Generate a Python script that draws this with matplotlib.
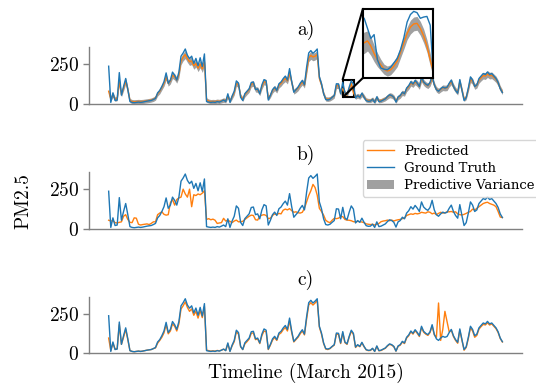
import matplotlib as mpl
mpl.use('Agg')
import matplotlib.pyplot as plt
from matplotlib.patches import Patch
from matplotlib.lines import Line2D
from mpl_toolkits.axes_grid1.inset_locator import mark_inset

#
#--- hourly timeline of March 2015, one reading every 4 hours
#
hours = list(range(0, 744, 4))

truth = [237, 10, 70, 22, 25, 197, 55, 110, 160, 90,
         15, 10, 8, 10, 12, 10, 12, 15, 18, 20,
         22, 28, 35, 70, 85, 110, 140, 195, 130, 150,
         200, 180, 150, 200, 300, 320, 345, 305, 285, 300,
         255, 286, 240, 290, 235, 314, 15, 12, 10, 12,
         10, 15, 12, 18, 25, 15, 64, 10, 50, 80,
         145, 130, 42, 22, 65, 80, 95, 135, 138, 90,
         95, 64, 120, 153, 145, 25, 55, 90, 106, 85,
         127, 138, 159, 175, 150, 222, 140, 74, 90, 106,
         130, 148, 120, 230, 320, 335, 318, 330, 345, 170,
         127, 64, 28, 25, 30, 42, 53, 127, 125, 64,
         136, 70, 58, 105, 145, 125, 38, 53, 42, 68,
         42, 21, 17, 18, 30, 10, 45, 15, 18, 25,
         32, 47, 58, 53, 42, 12, 45, 53, 74, 64,
         100, 115, 140, 125, 148, 131, 110, 170, 138, 125,
         117, 135, 180, 120, 90, 80, 95, 106, 100, 105,
         130, 150, 110, 85, 68, 153, 85, 22, 40, 100,
         170, 150, 110, 120, 160, 175, 191, 185, 201, 185,
         191, 175, 160, 135, 95, 72]

pred_a = [80, 30, 60, 30, 35, 140, 60, 100, 145, 90,
          22, 15, 14, 15, 16, 15, 16, 18, 20, 22,
          25, 30, 38, 65, 80, 105, 130, 170, 130, 145,
          180, 170, 150, 185, 270, 295, 310, 285, 265, 270,
          240, 255, 225, 250, 220, 265, 25, 18, 15, 16,
          15, 18, 16, 20, 25, 20, 50, 20, 45, 72,
          130, 120, 50, 30, 60, 75, 90, 125, 128, 92,
          90, 68, 110, 140, 135, 35, 55, 85, 100, 85,
          118, 130, 148, 160, 145, 195, 135, 78, 88, 100,
          122, 138, 118, 205, 290, 305, 295, 300, 310, 160,
          120, 65, 32, 30, 33, 42, 52, 115, 115, 68,
          97, 70, 54, 97, 128, 70, 45, 52, 45, 62,
          45, 25, 22, 22, 30, 15, 40, 20, 22, 28,
          34, 45, 55, 52, 42, 18, 42, 52, 70, 65,
          95, 110, 132, 122, 140, 128, 110, 158, 135, 122,
          115, 130, 165, 120, 92, 82, 92, 102, 100, 102,
          125, 140, 110, 88, 72, 140, 88, 30, 42, 95,
          155, 142, 110, 118, 150, 165, 178, 175, 188, 178,
          180, 168, 155, 132, 98, 75]

std_a = [20, 14, 16, 14, 14, 19, 15, 17, 19, 16,
         13, 13, 13, 13, 13, 13, 13, 13, 13, 13,
         13, 14, 14, 15, 16, 17, 18, 20, 18, 19,
         20, 20, 19, 21, 23, 24, 25, 24, 23, 23,
         22, 23, 22, 23, 22, 23, 14, 13, 13, 13,
         13, 13, 13, 13, 14, 13, 15, 13, 15, 16,
         18, 18, 15, 14, 16, 16, 17, 18, 18, 17,
         17, 16, 17, 19, 19, 14, 15, 17, 17, 16,
         18, 18, 19, 20, 19, 21, 18, 16, 17, 17,
         18, 19, 18, 21, 24, 25, 24, 24, 25, 20,
         18, 15, 14, 14, 14, 15, 15, 18, 18, 16,
         18, 16, 14, 16, 18, 16, 15, 15, 15, 16,
         15, 14, 13, 13, 14, 13, 15, 13, 13, 14,
         14, 15, 16, 16, 15, 13, 15, 16, 17, 16,
         18, 18, 19, 18, 19, 19, 18, 20, 19, 18,
         18, 19, 20, 18, 17, 17, 17, 18, 18, 18,
         18, 19, 18, 17, 16, 19, 17, 14, 15, 17,
         20, 19, 18, 18, 19, 20, 21, 21, 21, 21,
         21, 20, 20, 19, 17, 16]

pred_b = [55, 50, 52, 40, 38, 42, 45, 80, 90, 60,
          42, 40, 70, 68, 30, 25, 28, 30, 32, 28,
          35, 45, 45, 90, 100, 108, 92, 87, 90, 165,
          185, 150, 185, 195, 200, 250, 220, 200, 250, 140,
          215, 210, 220, 215, 225, 240, 60, 65, 58, 62,
          55, 35, 38, 40, 67, 50, 55, 48, 40, 50,
          56, 45, 46, 48, 60, 70, 80, 87, 85, 58,
          56, 80, 87, 90, 85, 65, 68, 85, 95, 90,
          98, 95, 118, 125, 120, 128, 115, 105, 108, 102,
          100, 105, 130, 170, 210, 240, 280, 260, 212, 130,
          110, 87, 55, 45, 40, 55, 67, 65, 68, 77,
          78, 60, 56, 55, 52, 46, 45, 48, 46, 44,
          40, 32, 30, 28, 30, 25, 30, 35, 46, 50,
          52, 56, 52, 56, 50, 55, 58, 60, 65, 68,
          85, 90, 95, 92, 98, 95, 98, 105, 102, 100,
          108, 105, 95, 100, 90, 98, 105, 100, 102, 108,
          108, 110, 105, 108, 95, 90, 88, 92, 98, 105,
          110, 125, 118, 130, 140, 150, 160, 165, 168, 160,
          155, 150, 140, 110, 75, 72]

pred_c = [95, 15, 62, 25, 28, 180, 55, 100, 150, 85,
          15, 10, 8, 10, 12, 10, 12, 15, 18, 20,
          22, 28, 32, 62, 80, 100, 128, 180, 122, 140,
          185, 170, 140, 185, 280, 300, 325, 290, 265, 280,
          240, 265, 222, 270, 225, 295, 18, 15, 12, 14,
          12, 16, 14, 18, 24, 16, 58, 12, 45, 72,
          135, 120, 40, 22, 58, 72, 88, 125, 128, 85,
          90, 60, 110, 140, 135, 22, 50, 82, 98, 80,
          118, 128, 148, 162, 140, 205, 130, 70, 85, 100,
          122, 140, 115, 215, 305, 320, 305, 318, 335, 165,
          120, 60, 25, 22, 28, 40, 50, 120, 118, 60,
          128, 66, 55, 100, 138, 118, 35, 50, 40, 64,
          40, 20, 15, 16, 28, 10, 42, 14, 16, 23,
          30, 44, 55, 50, 40, 12, 42, 50, 70, 60,
          95, 110, 135, 120, 142, 125, 105, 162, 132, 120,
          112, 130, 172, 115, 100, 318, 80, 150, 265, 200,
          135, 145, 105, 80, 62, 145, 80, 18, 35, 92,
          160, 140, 100, 112, 152, 168, 182, 178, 192, 178,
          185, 170, 155, 130, 92, 70]

#
#--- hourly close-up shown in the inset of panel a
#
zoom_hours = list(range(439, 463))
zoom_truth = [140, 136, 120, 104, 110, 70, 57, 55, 54, 58, 65, 72,
              86, 105, 130, 142, 147, 145, 136, 138, 139, 125, 41, 35]
zoom_pred  = [95, 97, 100, 92, 80, 70, 62, 55, 52, 54, 60, 68,
              82, 97, 112, 122, 127, 128, 120, 108, 92, 70, 50, 45]
zoom_std   = [17, 17, 16, 15, 13, 11, 9, 8, 8, 8, 8, 9,
              9, 10, 10, 11, 11, 11, 11, 11, 10, 10, 9, 9]

panel_titles = ['a)', 'b)', 'c)']
legend_names = ['Predicted', 'Ground Truth', 'Predictive Variance']

c_pred  = '#ff7f0e'
c_truth = '#1f77b4'
c_var   = 'gray'

plt.rcParams['font.family'] = 'cmr10'
plt.rcParams['mathtext.fontset'] = 'cm'
plt.rcParams['axes.formatter.use_mathtext'] = True
plt.rcParams['font.size'] = 14

#---------------------------------------------------------------------------------------------------
#-- style_axis: gray left/bottom spines, two y ticks, no x ticks                                  ---
#---------------------------------------------------------------------------------------------------

def style_axis(ax, title):

    for side in ['top', 'right']:
        ax.spines[side].set_visible(False)
    for side in ['left', 'bottom']:
        ax.spines[side].set_color('#808080')
        ax.spines[side].set_linewidth(1.0)

    ax.set_xticks([])
    ax.set_yticks([0, 250])
    ax.tick_params(axis='y', length=4, width=1, color='#808080', labelsize=14, pad=3)
    ax.set_ylim(0, 356)
    ax.set_xlim(-37, 777)
    ax.set_title(title, fontsize=14, pad=9)


fig = plt.figure(figsize=(5.36, 3.86), dpi=100)

left  = 0.166
width = 0.808
ax_a = fig.add_axes([left, 0.7306, width, 0.147])
ax_b = fig.add_axes([left, 0.4067, width, 0.147])
ax_c = fig.add_axes([left, 0.0855, width, 0.145])

#
#--- panel a: prediction with variance band
#
low_a  = [p - s for p, s in zip(pred_a, std_a)]
high_a = [p + s for p, s in zip(pred_a, std_a)]
ax_a.fill_between(hours, low_a, high_a, color=c_var, alpha=0.75, lw=0)
ax_a.plot(hours, pred_a, color=c_pred, lw=1.0)
ax_a.plot(hours, truth, color=c_truth, lw=1.0)
style_axis(ax_a, panel_titles[0])

#
#--- panel b and c
#
ax_b.plot(hours, pred_b, color=c_pred, lw=1.0)
ax_b.plot(hours, truth, color=c_truth, lw=1.0)
style_axis(ax_b, panel_titles[1])
ax_b.set_ylabel('PM2.5', fontsize=14, labelpad=12)

ax_c.plot(hours, pred_c, color=c_pred, lw=1.0)
ax_c.plot(hours, truth, color=c_truth, lw=1.0)
style_axis(ax_c, panel_titles[2])
ax_c.set_xlabel('Timeline (March 2015)', fontsize=14, labelpad=7)

#
#--- inset close-up of panel a
#
axins = fig.add_axes([0.677, 0.798, 0.1306, 0.179])
zlow  = [p - s for p, s in zip(zoom_pred, zoom_std)]
zhigh = [p + s for p, s in zip(zoom_pred, zoom_std)]
axins.fill_between(zoom_hours, zlow, zhigh, color=c_var, alpha=0.75, lw=0)
axins.plot(zoom_hours, zoom_pred, color=c_pred, lw=1.0)
axins.plot(zoom_hours, zoom_truth, color=c_truth, lw=1.0)
axins.set_xlim(439.6, 460.8)
axins.set_ylim(41, 151)
axins.set_xticks([])
axins.set_yticks([])
for side in axins.spines:
    axins.spines[side].set_linewidth(1.5)
    axins.spines[side].set_color('black')
mark_inset(ax_a, axins, loc1=2, loc2=3, fc='none', ec='black', lw=1.5)

#
#--- legend on panel b
#
handles = [Line2D([], [], color=c_pred, lw=1.0),
           Line2D([], [], color=c_truth, lw=1.0),
           Patch(facecolor=c_var, alpha=0.75)]
ax_b.legend(handles, legend_names, loc='upper right', bbox_to_anchor=(1.04, 1.56),
            borderaxespad=0, prop={'family': 'DejaVu Serif', 'size': 9.5},
            handlelength=2.0, labelspacing=0.3, borderpad=0.35, handletextpad=0.8)

plt.savefig('out.png', dpi=100)
